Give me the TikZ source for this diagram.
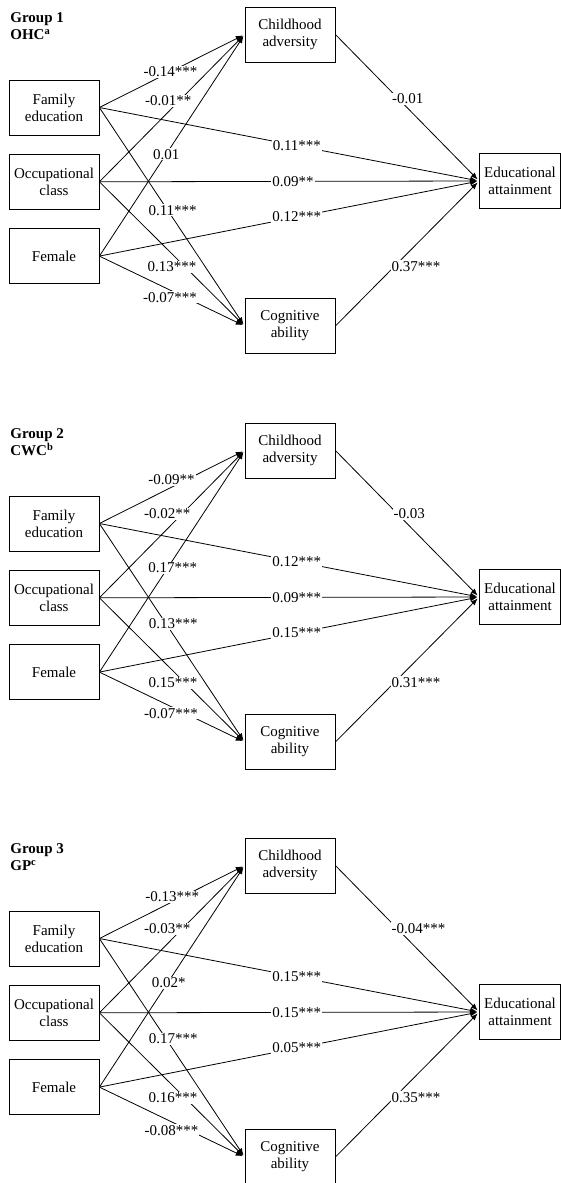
\documentclass[tikz,border=0pt]{standalone}
\usepackage{fontspec}
\setmainfont{Liberation Serif}
\usetikzlibrary{positioning,arrows.meta}

\begin{document}
\begin{tikzpicture}[>={Latex[length=7pt,width=5.5pt]},thick,x=1pt,y=-1pt,font=\fontsize{15}{17}\selectfont,
    box/.style={draw,align=center,minimum width=90pt,minimum height=55pt,inner sep=3pt},
    grp/.style={align=left,inner sep=0pt,anchor=north west,font=\fontsize{15}{17}\selectfont\bfseries},
    coef/.style={fill=white,inner sep=1pt},
    link/.style={->,shorten >=2pt}]
    \useasboundingbox (0,0) rectangle (561,1183);

    % Group 1
    \begin{scope}
        \node[grp] (title1) at (10,12.5) {Group 1\\OHC\textsuperscript{a}};
        \node[box] (fam1) at (54,107.5) {Family\\education};
        \node[box,below=18.5pt of fam1] (occ1) {Occupational\\class};
        \node[box,below=18.5pt of occ1] (fem1) {Female};
        \node[box] (adv1) at (290,34.5) {Childhood\\adversity};
        \node[box] (cog1) at (290,326) {Cognitive\\ability};
        \node[box,minimum width=81pt,inner xsep=2pt] (edu1) at (520,181) {Educational\\attainment};
        \draw[link] (fam1.east) -- node[coef,pos=.49] {-0.14***} (adv1.west);
        \draw[link] (occ1.east) -- node[coef,pos=.55,xshift=-11pt] {-0.01**} (adv1.west);
        \draw[link] (fem1.east) -- node[coef,pos=.46] {0.01} (adv1.west);
        \draw[link] (fam1.east) -- node[coef,pos=.47,xshift=5pt] {0.11***} (cog1.west);
        \draw[link] (occ1.east) -- node[coef,pos=.59,xshift=-13pt] {0.13***} (cog1.west);
        \draw[link] (fem1.east) -- node[coef,pos=.59,xshift=-15pt] {-0.07***} (cog1.west);
        \draw[link] (fam1.east) -- node[coef,pos=.52] {0.11***} (edu1.west);
        \draw[link] (occ1.east) -- node[coef,pos=.51] {0.09**} (edu1.west);
        \draw[link] (fem1.east) -- node[coef,pos=.52] {0.12***} (edu1.west);
        \draw[link] (adv1.east) -- node[coef,pos=.44,anchor=west,xshift=-8pt] {-0.01} (edu1.west);
        \draw[link] (cog1.east) -- node[coef,pos=.41,anchor=west,xshift=-4pt] {0.37***} (edu1.west);
    \end{scope}

    % Group 2
    \begin{scope}[yshift=-416pt]
        \node[grp] (title2) at (10,12.5) {Group 2\\CWC\textsuperscript{b}};
        \node[box] (fam2) at (54,107.5) {Family\\education};
        \node[box,below=18.5pt of fam2] (occ2) {Occupational\\class};
        \node[box,below=18.5pt of occ2] (fem2) {Female};
        \node[box] (adv2) at (290,34.5) {Childhood\\adversity};
        \node[box] (cog2) at (290,326) {Cognitive\\ability};
        \node[box,minimum width=81pt,inner xsep=2pt] (edu2) at (520,181) {Educational\\attainment};
        \draw[link] (fam2.east) -- node[coef,pos=.60,xshift=-15pt] {-0.09**} (adv2.west);
        \draw[link] (occ2.east) -- node[coef,pos=.57,xshift=-15pt] {-0.02**} (adv2.west);
        \draw[link] (fem2.east) -- node[coef,pos=.47,xshift=5pt] {0.17***} (adv2.west);
        \draw[link] (fam2.east) -- node[coef,pos=.46,xshift=7pt] {0.13***} (cog2.west);
        \draw[link] (occ2.east) -- node[coef,pos=.59,xshift=-12pt] {0.15***} (cog2.west);
        \draw[link] (fem2.east) -- node[coef,pos=.59,xshift=-14pt] {-0.07***} (cog2.west);
        \draw[link] (fam2.east) -- node[coef,pos=.52] {0.12***} (edu2.west);
        \draw[link] (occ2.east) -- node[coef,pos=.52] {0.09***} (edu2.west);
        \draw[link] (fem2.east) -- node[coef,pos=.52] {0.15***} (edu2.west);
        \draw[link] (adv2.east) -- node[coef,pos=.43,anchor=west,xshift=-5pt] {-0.03} (edu2.west);
        \draw[link] (cog2.east) -- node[coef,pos=.41,anchor=west,xshift=-4pt] {0.31***} (edu2.west);
    \end{scope}

    % Group 3
    \begin{scope}[yshift=-831pt]
        \node[grp] (title3) at (10,12.5) {Group 3\\GP\textsuperscript{c}};
        \node[box] (fam3) at (54,107.5) {Family\\education};
        \node[box,below=18.5pt of fam3] (occ3) {Occupational\\class};
        \node[box,below=18.5pt of occ3] (fem3) {Female};
        \node[box] (adv3) at (290,34.5) {Childhood\\adversity};
        \node[box] (cog3) at (290,326) {Cognitive\\ability};
        \node[box,minimum width=81pt,inner xsep=2pt] (edu3) at (520,181) {Educational\\attainment};
        \draw[link] (fam3.east) -- node[coef,pos=.57,xshift=-10pt] {-0.13***} (adv3.west);
        \draw[link] (occ3.east) -- node[coef,pos=.57,xshift=-15pt] {-0.03**} (adv3.west);
        \draw[link] (fem3.east) -- node[coef,pos=.47,xshift=1pt] {0.02*} (adv3.west);
        \draw[link] (fam3.east) -- node[coef,pos=.46,xshift=7pt] {0.17***} (cog3.west);
        \draw[link] (occ3.east) -- node[coef,pos=.59,xshift=-12pt] {0.16***} (cog3.west);
        \draw[link] (fem3.east) -- node[coef,pos=.62,xshift=-18pt] {-0.08***} (cog3.west);
        \draw[link] (fam3.east) -- node[coef,pos=.52] {0.15***} (edu3.west);
        \draw[link] (occ3.east) -- node[coef,pos=.52] {0.15***} (edu3.west);
        \draw[link] (fem3.east) -- node[coef,pos=.52] {0.05***} (edu3.west);
        \draw[link] (adv3.east) -- node[coef,pos=.43,anchor=west,xshift=-7pt] {-0.04***} (edu3.west);
        \draw[link] (cog3.east) -- node[coef,pos=.41,anchor=west,xshift=-4pt] {0.35***} (edu3.west);
    \end{scope}
\end{tikzpicture}
\end{document}
